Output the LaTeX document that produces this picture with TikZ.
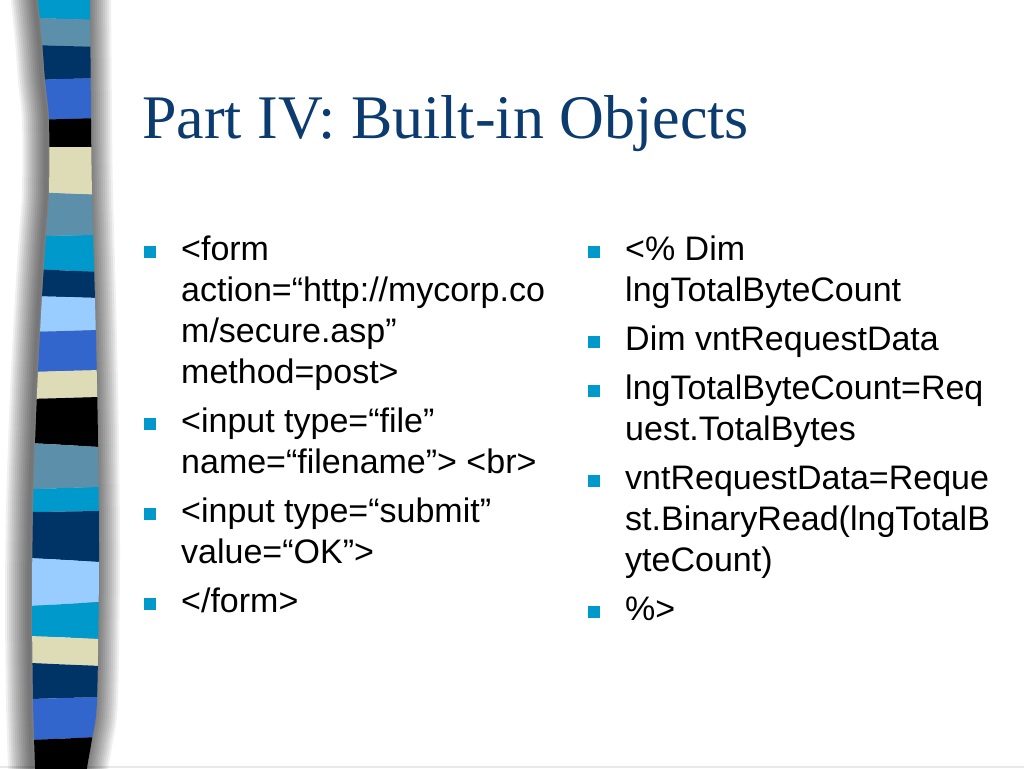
\documentclass[tikz,border=0pt]{standalone}
\usepackage{fontspec}
\setmainfont{Liberation Sans}
\newfontfamily\titlefont{Liberation Serif}
\usepackage{tikz}

\definecolor{bandcyan}{HTML}{0099CC}
\definecolor{bandsteel}{HTML}{5B8FAA}
\definecolor{bandnavy}{HTML}{003366}
\definecolor{bandroyal}{HTML}{3366CC}
\definecolor{bandcream}{HTML}{DEDCB6}
\definecolor{bandlight}{HTML}{99CCFF}
\definecolor{titleblue}{HTML}{0B3B6F}

\newcommand{\stripeoutline}{plot[smooth] coordinates {(35,-40) (38,0) (42,40) (45,80) (49,120) (49,193) (46,235) (42,297) (38,372) (35,444) (33,511) (32,600) (33,700) (35,768) (36,808)}
    -- plot[smooth] coordinates {(82,808) (87,768) (92,739) (97,700) (99,560) (98,444) (97,384) (95,300) (92,193) (91,120) (90,0) (89,-40)} -- cycle}

\begin{document}
\begin{tikzpicture}[x=1pt, y=-1pt,
    bullet/.style={rectangle, fill=bandcyan, minimum size=12pt, inner sep=0pt, anchor=south west},
    item/.style={anchor=base west, align=left, inner sep=0pt, font=\fontsize{34}{41}\selectfont}]
    \useasboundingbox [fill=white] (0,0) rectangle (1024,768);
    \draw [gray!18, line width=1.5pt] (0,767) -- (1024,767);
    % soft shadow round the stripe
    \foreach \w in {48,44,...,4}
        \draw [line width=\w pt, black, opacity=0.06, line join=round, xshift=-3pt] \stripeoutline;
    \begin{scope}
    \clip \stripeoutline;
    \foreach \c/\a/\b/\d/\e in {bandcyan/-40/-40/18/20, bandsteel/18/20/45/47, bandnavy/45/47/80/78,
            bandroyal/80/78/120/118, black/120/118/147/147, bandcream/147/147/192/195,
            bandsteel/192/195/236/235, bandcyan/236/235/269/272, bandnavy/269/272/296/298,
            bandlight/296/298/332/330, bandroyal/332/330/372/370, bandcream/372/370/399/397,
            black/399/397/443/447, bandsteel/443/447/489/487, bandcyan/489/487/512/511,
            bandnavy/512/511/558/562, bandlight/558/562/606/602, bandcyan/606/602/636/639,
            bandcream/636/639/663/666, bandnavy/663/666/699/697, bandroyal/699/697/740/737,
            black/740/737/808/808}
        \fill [\c] (30,\a) -- (100,\b) -- (100,\e) -- (30,\d) -- cycle;
    \end{scope}
    \node (title) [anchor=base west, inner sep=0pt, text=titleblue,
        font=\titlefont\fontsize{62}{70}\selectfont] at (142,138) {Part IV: Built-in Objects};
    % left column (items sit on the baseline of their last line)
    \node (bl1) [bullet] at (144,258) {};
    \node (bl2) [bullet] at (144,430) {};
    \node (bl3) [bullet] at (144,520) {};
    \node (bl4) [bullet] at (144,610) {};
    \node (form) [item] at (181,383) {<form\\action=“http://mycorp.co\\m/secure.asp”\\method=post>};
    \node (file) [item] at (181,473) {<input type=“file”\\name=“filename”> <br>};
    \node (submit) [item] at (181,563) {<input type=“submit”\\value=“OK”>};
    \node (endform) [item] at (181,612) {</form>};
    % right column
    \node (br1) [bullet] at (588,258) {};
    \node (br2) [bullet] at (588,348) {};
    \node (br3) [bullet] at (588,397) {};
    \node (br4) [bullet] at (588,487) {};
    \node (br5) [bullet] at (588,618) {};
    \node (dimcount) [item] at (625,301) {<\% Dim\\lngTotalByteCount};
    \node (dimdata) [item] at (625,350) {Dim vntRequestData};
    \node (total) [item] at (625,440) {lngTotalByteCount=Req\\uest.TotalBytes};
    \node (binread) [item] at (625,571) {vntRequestData=Reque\\st.BinaryRead(lngTotalB\\yteCount)};
    \node (close) [item] at (625,620) {\%>};
\end{tikzpicture}
\end{document}
